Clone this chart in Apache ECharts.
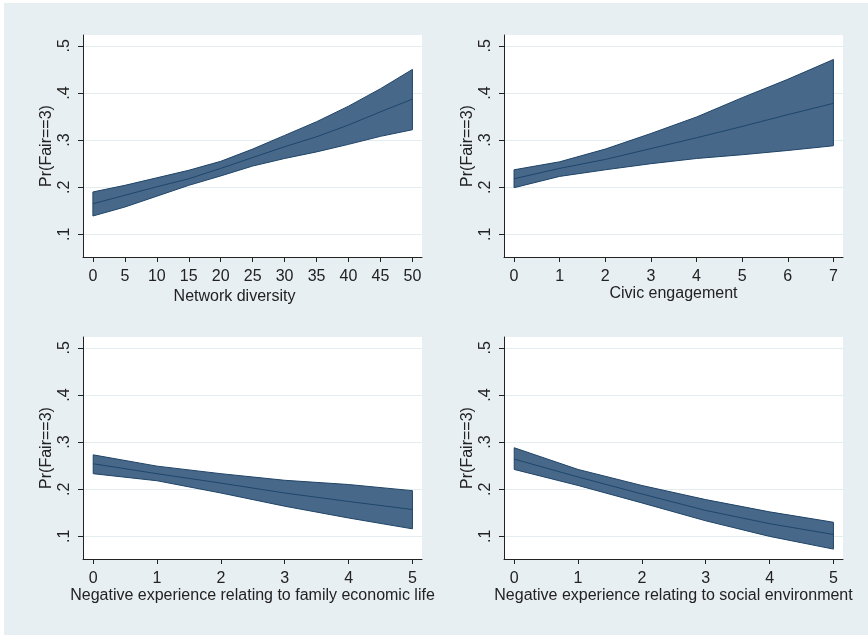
<!DOCTYPE html>
<html>
<head>
<meta charset="utf-8">
<script src="https://cdn.jsdelivr.net/npm/echarts@6/dist/echarts.min.js"></script>
<style>
  html, body { margin: 0; padding: 0; background: #fff; }
  #chart-container {
    width: 868px; height: 635px;
    background: linear-gradient(#e8eff2, #e8eff2) 4px 3px / 864px 632px no-repeat, #fff;
  }
</style>
</head>
<body>
<div id="chart-container"></div>
<script>
// panel 1: network diversity
const diversityX = [0, 5, 10, 15, 20, 25, 30, 35, 40, 45, 50];
const diversityUpper = [0.190, 0.204, 0.220, 0.236, 0.255, 0.281, 0.310, 0.339, 0.372, 0.409, 0.450];
const diversityMean = [0.165, 0.183, 0.201, 0.218, 0.240, 0.263, 0.286, 0.307, 0.332, 0.360, 0.387];
const diversityLower = [0.139, 0.158, 0.181, 0.204, 0.224, 0.245, 0.261, 0.275, 0.291, 0.308, 0.322];

// panel 2: civic engagement
const civicX = [0, 1, 2, 3, 4, 5, 6, 7];
const civicUpper = [0.237, 0.254, 0.281, 0.314, 0.349, 0.390, 0.429, 0.471];
const civicMean = [0.218, 0.240, 0.259, 0.282, 0.305, 0.329, 0.354, 0.378];
const civicLower = [0.199, 0.223, 0.237, 0.250, 0.261, 0.269, 0.278, 0.288];

// panel 3: family economic life
const familyX = [0, 1, 2, 3, 4, 5];
const familyUpper = [0.273, 0.249, 0.233, 0.219, 0.210, 0.197];
const familyMean = [0.254, 0.233, 0.213, 0.192, 0.174, 0.157];
const familyLower = [0.233, 0.218, 0.192, 0.164, 0.139, 0.116];

// panel 4: social environment
const socialX = [0, 1, 2, 3, 4, 5];
const socialUpper = [0.288, 0.242, 0.208, 0.178, 0.152, 0.130];
const socialMean = [0.264, 0.226, 0.190, 0.155, 0.127, 0.104];
const socialLower = [0.242, 0.208, 0.171, 0.133, 0.100, 0.073];

const yTicks = [0.1, 0.2, 0.3, 0.4, 0.5];
const diversityTicks = [0, 5, 10, 15, 20, 25, 30, 35, 40, 45, 50];
const civicTicks = [0, 1, 2, 3, 4, 5, 6, 7];
const negTicks = [0, 1, 2, 3, 4, 5];

const yTitle = 'Pr(Fair==3)';
const xTitles = [
    'Network diversity',
    'Civic engagement',
    'Negative experience relating to family economic life',
    'Negative experience relating to social environment'
];

const FONT = 'Liberation Sans, Arial, sans-serif';
const TEXT = '#222';
const AXIS = '#222';
const BAND = '#486889';
const EDGE = '#1f4467';
const MEAN = '#1d466c';

const panels = [
    {x: diversityX, up: diversityUpper, mean: diversityMean, lo: diversityLower, ticks: diversityTicks,
        min: -1.55, max: 51.5, grid: {left: 83, top: 35}, nameGap: 32, namePad: [0, 36, 0, 0]},
    {x: civicX, up: civicUpper, mean: civicMean, lo: civicLower, ticks: civicTicks,
        min: -0.22, max: 7.21, grid: {left: 504, top: 35}, nameGap: 25, namePad: 0},
    {x: familyX, up: familyUpper, mean: familyMean, lo: familyLower, ticks: negTicks,
        min: -0.16, max: 5.15, grid: {left: 83, top: 337}, nameGap: 25, namePad: 0},
    {x: socialX, up: socialUpper, mean: socialMean, lo: socialLower, ticks: negTicks,
        min: -0.16, max: 5.15, grid: {left: 504, top: 337}, nameGap: 25, namePad: 0}
];

const zip = (xs, ys) => xs.map((x, i) => [x, ys[i]]);

// one polygon per band: upper edge left->right, then lower edge back
function bandRenderer(p) {
    return function (params, api) {
        if (params.dataIndex !== 0) return;
        const top = p.x.map((x, k) => api.coord([x, p.up[k]]));
        const bottom = p.x.map((x, k) => api.coord([x, p.lo[k]])).reverse();
        return {
            type: 'polygon',
            shape: {points: top.concat(bottom)},
            style: {fill: BAND, stroke: EDGE, lineWidth: 1}
        };
    };
}

const grid = [], xAxis = [], yAxis = [], series = [];

panels.forEach((p, i) => {
    grid.push({
        left: p.grid.left, top: p.grid.top, width: 339, height: 222,
        show: true, backgroundColor: '#fff', borderWidth: 0
    });

    xAxis.push({
        gridIndex: i, type: 'value', min: p.min, max: p.max,
        name: xTitles[i], nameLocation: 'middle', nameGap: p.nameGap,
        nameTextStyle: {fontFamily: FONT, fontSize: 16, color: TEXT, padding: p.namePad},
        axisLine: {show: true, onZero: false, lineStyle: {color: AXIS, width: 1}},
        axisTick: {show: true, length: 5, customValues: p.ticks, lineStyle: {color: AXIS}},
        axisLabel: {customValues: p.ticks, margin: 12, fontFamily: FONT, fontSize: 16, color: TEXT},
        splitLine: {show: false}
    });

    yAxis.push({
        gridIndex: i, type: 'value', min: 0.052, max: 0.523,
        name: yTitle, nameLocation: 'middle', nameGap: 28,
        nameTextStyle: {fontFamily: FONT, fontSize: 16, color: TEXT},
        axisLine: {show: true, onZero: false, lineStyle: {color: AXIS, width: 1}},
        axisTick: {show: true, length: 5, customValues: yTicks, lineStyle: {color: AXIS}},
        axisLabel: {
            customValues: yTicks, rotate: 90, margin: 10,
            fontFamily: FONT, fontSize: 16, color: TEXT,
            formatter: v => v.toFixed(1).replace(/^0/, '')
        },
        splitLine: {show: true, lineStyle: {color: '#e3ecee', width: 1}}
    });

    series.push({
        type: 'custom', xAxisIndex: i, yAxisIndex: i, silent: true,
        data: zip(p.x, p.up),
        renderItem: bandRenderer(p)
    });
    series.push({
        type: 'line', xAxisIndex: i, yAxisIndex: i,
        data: zip(p.x, p.mean), symbol: 'none', silent: true,
        lineStyle: {color: MEAN, width: 1}, z: 3
    });
});

const chartDom = document.getElementById('chart-container');
const myChart = echarts.init(chartDom);

myChart.setOption({
    backgroundColor: 'transparent',
    animation: false,
    grid: grid,
    xAxis: xAxis,
    yAxis: yAxis,
    series: series
});
</script>
</body>
</html>
